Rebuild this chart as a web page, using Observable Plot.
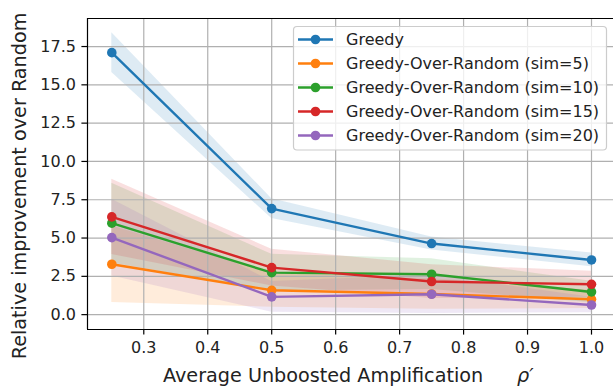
<!DOCTYPE html>
<html><head><meta charset="utf-8">
<script src="https://cdn.jsdelivr.net/npm/d3@7"></script>
<script src="https://cdn.jsdelivr.net/npm/@observablehq/plot@0.6"></script>
<style>
body{margin:0;background:#fff;}
#chart{position:relative;width:613px;height:387px;overflow:hidden;}
</style>
</head><body><div id="chart"></div>
<script>
// ---- data ----
const rho = [0.25, 0.5, 0.75, 1.0];
const seriesNames = [
  "Greedy",
  "Greedy-Over-Random (sim=5)",
  "Greedy-Over-Random (sim=10)",
  "Greedy-Over-Random (sim=15)",
  "Greedy-Over-Random (sim=20)"
];
const seriesColors = ["#1f77b4", "#ff7f0e", "#2ca02c", "#d62728", "#9467bd"];
const greedyMean = [17.1, 6.92, 4.64, 3.57];
const greedyStd  = [1.3, 0.65, 0.42, 0.45];
const sim5Mean   = [3.29, 1.59, 1.35, 1.0];
const sim5Std    = [2.5, 1.1, 1.0, 0.6];
const sim10Mean  = [5.97, 2.74, 2.64, 1.48];
const sim10Std   = [2.6, 1.2, 1.0, 0.7];
const sim15Mean  = [6.38, 3.07, 2.16, 1.98];
const sim15Std   = [2.46, 1.2, 1.1, 0.85];
const sim20Mean  = [5.03, 1.16, 1.33, 0.63];
const sim20Std   = [2.5, 1.0, 1.25, 0.5];
const xTicks = [0.3, 0.4, 0.5, 0.6, 0.7, 0.8, 0.9, 1.0];
const yTicks = [0, 2.5, 5, 7.5, 10, 12.5, 15, 17.5];
const xLabel = "Average Unboosted Amplification";
const xLabelSymbol = "ρ′";
const yLabel = "Relative improvement over Random";

// ---- build ----
const means = [greedyMean, sim5Mean, sim10Mean, sim15Mean, sim20Mean];
const stds = [greedyStd, sim5Std, sim10Std, sim15Std, sim20Std];
const series = seriesNames.map((name, k) => ({
  name, color: seriesColors[k],
  rows: rho.map((x, i) => ({x, y: means[k][i], lo: means[k][i] - stds[k][i], hi: means[k][i] + stds[k][i]}))
}));

const xDomain = [0.212, 1.0344];
const yDomain = [-0.97, 19.33];
const FONT = "DejaVu Sans, sans-serif";

const marks = [];
series.forEach(s => marks.push(Plot.areaY(s.rows, {x: "x", y1: "lo", y2: "hi", fill: s.color, fillOpacity: 0.15})));
marks.push(Plot.gridX(xTicks, {stroke: "#b0b0b0", strokeOpacity: 1, strokeWidth: 1.2}));
marks.push(Plot.gridY(yTicks, {stroke: "#b0b0b0", strokeOpacity: 1, strokeWidth: 1.2}));
series.forEach(s => {
  marks.push(Plot.line(s.rows, {x: "x", y: "y", stroke: s.color, strokeWidth: 2.4}));
  marks.push(Plot.dot(s.rows, {x: "x", y: "y", r: 4.8, fill: s.color, stroke: "none"}));
});
marks.push(Plot.ruleX([xDomain[0]], {stroke: "#000", strokeWidth: 1.2}));
marks.push(Plot.ruleY([yDomain[0], yDomain[1]], {stroke: "#000", strokeWidth: 1.2}));
marks.push(Plot.axisX(xTicks, {tickFormat: d => d.toFixed(1), tickSize: 5.6, tickPadding: 6.5, fontSize: 16, label: null, stroke: "#000", strokeWidth: 1.2}));
marks.push(Plot.axisY(yTicks, {tickFormat: d => d.toFixed(1), tickSize: 5.6, tickPadding: 6, fontSize: 16, label: null, stroke: "#000", strokeWidth: 1.2}));

const chart = Plot.plot({
  width: 613, height: 387,
  marginLeft: 87, marginRight: 0, marginTop: 18, marginBottom: 58,
  x: {domain: xDomain},
  y: {domain: yDomain},
  style: {fontFamily: FONT, fontSize: "16px", color: "#222", background: "#fff"},
  marks
});
document.getElementById("chart").appendChild(chart);

// ---- labels and legend ----
const svg = d3.select(chart);
const xl = svg.append("text")
  .attr("x", 163).attr("y", 382).attr("text-anchor", "start")
  .attr("font-family", FONT).attr("font-size", 19.2).attr("fill", "#222");
xl.append("tspan").text(xLabel);
xl.append("tspan").attr("x", 517).attr("font-style", "italic").text(xLabelSymbol);

svg.append("text")
  .attr("transform", "translate(26,186) rotate(-90)")
  .attr("text-anchor", "middle")
  .attr("font-family", FONT).attr("font-size", 19.2).attr("fill", "#222")
  .text(yLabel);

const lg = svg.append("g").attr("text-anchor", "start");
lg.append("rect")
  .attr("x", 293.5).attr("y", 26.5).attr("width", 313).attr("height", 123.5)
  .attr("rx", 3.5).attr("fill", "#fff").attr("fill-opacity", 0.8)
  .attr("stroke", "#cccccc").attr("stroke-width", 1.2);
series.forEach((s, k) => {
  const cy = 39.5 + k * 24;
  lg.append("line").attr("x1", 298).attr("x2", 333).attr("y1", cy).attr("y2", cy)
    .attr("stroke", s.color).attr("stroke-width", 2.4);
  lg.append("circle").attr("cx", 315.5).attr("cy", cy).attr("r", 4.8).attr("fill", s.color);
  lg.append("text").attr("x", 346).attr("y", cy + 5.8).attr("text-anchor", "start")
    .attr("font-family", FONT).attr("font-size", 16).attr("fill", "#222")
    .text(s.name);
});
</script>
</body></html>
